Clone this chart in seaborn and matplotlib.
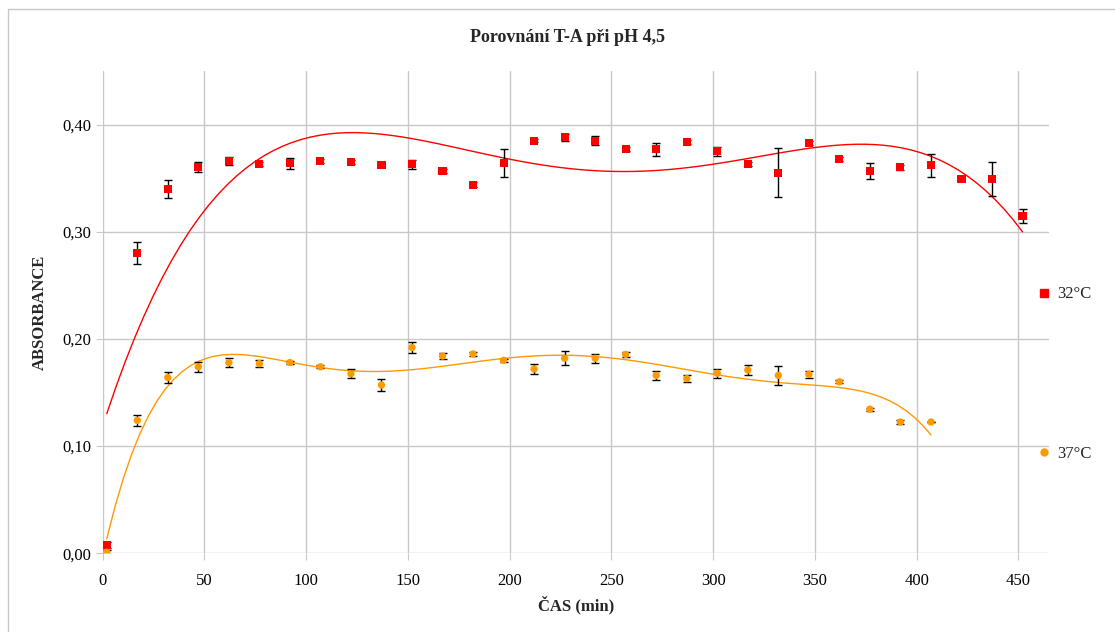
import numpy as np
import pandas as pd
import matplotlib
matplotlib.use("Agg")
import matplotlib.pyplot as plt
from matplotlib.lines import Line2D
from matplotlib.patches import Rectangle
import seaborn as sns

# data
time_32 = [2, 17, 32, 47, 62, 77, 92, 107, 122, 137, 152, 167, 182, 197, 212, 227,
           242, 257, 272, 287, 302, 317, 332, 347, 362, 377, 392, 407, 422, 437, 452]
abs_32 = [0.008, 0.280, 0.340, 0.360, 0.366, 0.363, 0.364, 0.366, 0.365, 0.362, 0.363,
          0.357, 0.344, 0.364, 0.385, 0.388, 0.385, 0.377, 0.377, 0.384, 0.375, 0.363,
          0.355, 0.383, 0.368, 0.357, 0.360, 0.362, 0.349, 0.349, 0.315]
err_32 = [0.003, 0.0105, 0.0085, 0.0047, 0.0035, 0.002, 0.005, 0.002, 0.002, 0.002, 0.004,
          0.002, 0.002, 0.013, 0.0015, 0.003, 0.0045, 0.002, 0.006, 0.002, 0.0045, 0.002,
          0.023, 0.002, 0.002, 0.0075, 0.002, 0.0105, 0.002, 0.016, 0.0065]

time_37 = [2, 17, 32, 47, 62, 77, 92, 107, 122, 137, 152, 167, 182, 197, 212, 227,
           242, 257, 272, 287, 302, 317, 332, 347, 362, 377, 392, 407]
abs_37 = [0.001, 0.124, 0.164, 0.174, 0.178, 0.177, 0.178, 0.174, 0.1675, 0.157, 0.192,
          0.184, 0.186, 0.180, 0.172, 0.182, 0.182, 0.1855, 0.166, 0.163, 0.168, 0.171,
          0.166, 0.167, 0.160, 0.1345, 0.1225, 0.1225]
err_37 = [0.002, 0.005, 0.0055, 0.0048, 0.004, 0.003, 0.0015, 0.0015, 0.004, 0.0053, 0.005,
          0.003, 0.002, 0.0015, 0.0047, 0.0067, 0.004, 0.002, 0.004, 0.0035, 0.004, 0.005,
          0.009, 0.003, 0.0015, 0.0015, 0.0015, 0.0]

df32 = pd.DataFrame({"cas": time_32, "abs": abs_32, "err": err_32})
df37 = pd.DataFrame({"cas": time_37, "abs": abs_37, "err": err_37})

red = "#FF0000"
orange = "#FF9900"

sns.set_style("white")
plt.rcParams["font.family"] = ["Liberation Serif", "DejaVu Serif"]

fig = plt.figure(figsize=(11.15, 6.32), dpi=100)
ax = fig.add_axes([0.0921, 0.1245, 0.8487, 0.7632])

# polynomial trendlines (like Excel)
sns.regplot(data=df32, x="cas", y="abs", order=4, ci=None, scatter=False,
            color=red, line_kws={"lw": 1}, ax=ax)
sns.regplot(data=df37, x="cas", y="abs", order=6, ci=None, scatter=False,
            color=orange, line_kws={"lw": 1}, ax=ax)

ax.errorbar(df32["cas"], df32["abs"], yerr=df32["err"], fmt="none", ecolor="black",
            elinewidth=1, capsize=3, capthick=1, zorder=2.5)
ax.errorbar(df37["cas"], df37["abs"], yerr=df37["err"], fmt="none", ecolor="black",
            elinewidth=1, capsize=3, capthick=1, zorder=2.5)

sns.scatterplot(data=df32, x="cas", y="abs", marker="s", s=34, color=red,
                edgecolor="none", ax=ax, zorder=3)
sns.scatterplot(data=df37, x="cas", y="abs", marker="o", s=28, color=orange,
                edgecolor="none", ax=ax, zorder=3)

ax.set_xlim(0, 465)
ax.set_ylim(0, 0.45)
ax.set_xticks(range(0, 451, 50))
ax.set_yticks([0, 0.1, 0.2, 0.3, 0.4])
ax.set_yticklabels(["0,00", "0,10", "0,20", "0,30", "0,40"])
ax.grid(True, color="#c8c8c8", lw=1)
for s in ax.spines.values():
    s.set_visible(False)
ax.tick_params(axis="both", which="both", length=5, color="#c8c8c8", labelsize=12,
               labelcolor="black", direction="out", left=True, bottom=True)
ax.tick_params(axis="x", pad=9)

ax.set_xlabel("ČAS (min)", fontsize=12, fontweight="bold", labelpad=5)
ax.set_ylabel("ABSORBANCE", fontsize=12, fontweight="bold", labelpad=10)
fig.text(0.509, 0.94, "Porovnání T-A při pH 4,5", ha="center", va="center",
         fontsize=13, fontweight="bold")

handles = [Line2D([], [], marker="s", color=red, ls="none", markersize=5.5),
           Line2D([], [], marker="o", color=orange, ls="none", markersize=5)]
fig.legend(handles, ["32°C", "37°C"], loc="center left",
           bbox_to_anchor=(0.917, 0.408), frameon=False, fontsize=12,
           labelspacing=8.6, handlelength=0.8, handletextpad=0.4)

# light border round the chart area
fig.add_artist(Rectangle((8 / 1115, -0.1), 1.2, 1.1 - 9 / 632, transform=fig.transFigure,
                         fill=False, edgecolor="#c8c8c8", lw=1))

fig.savefig("out.png", dpi=100)
